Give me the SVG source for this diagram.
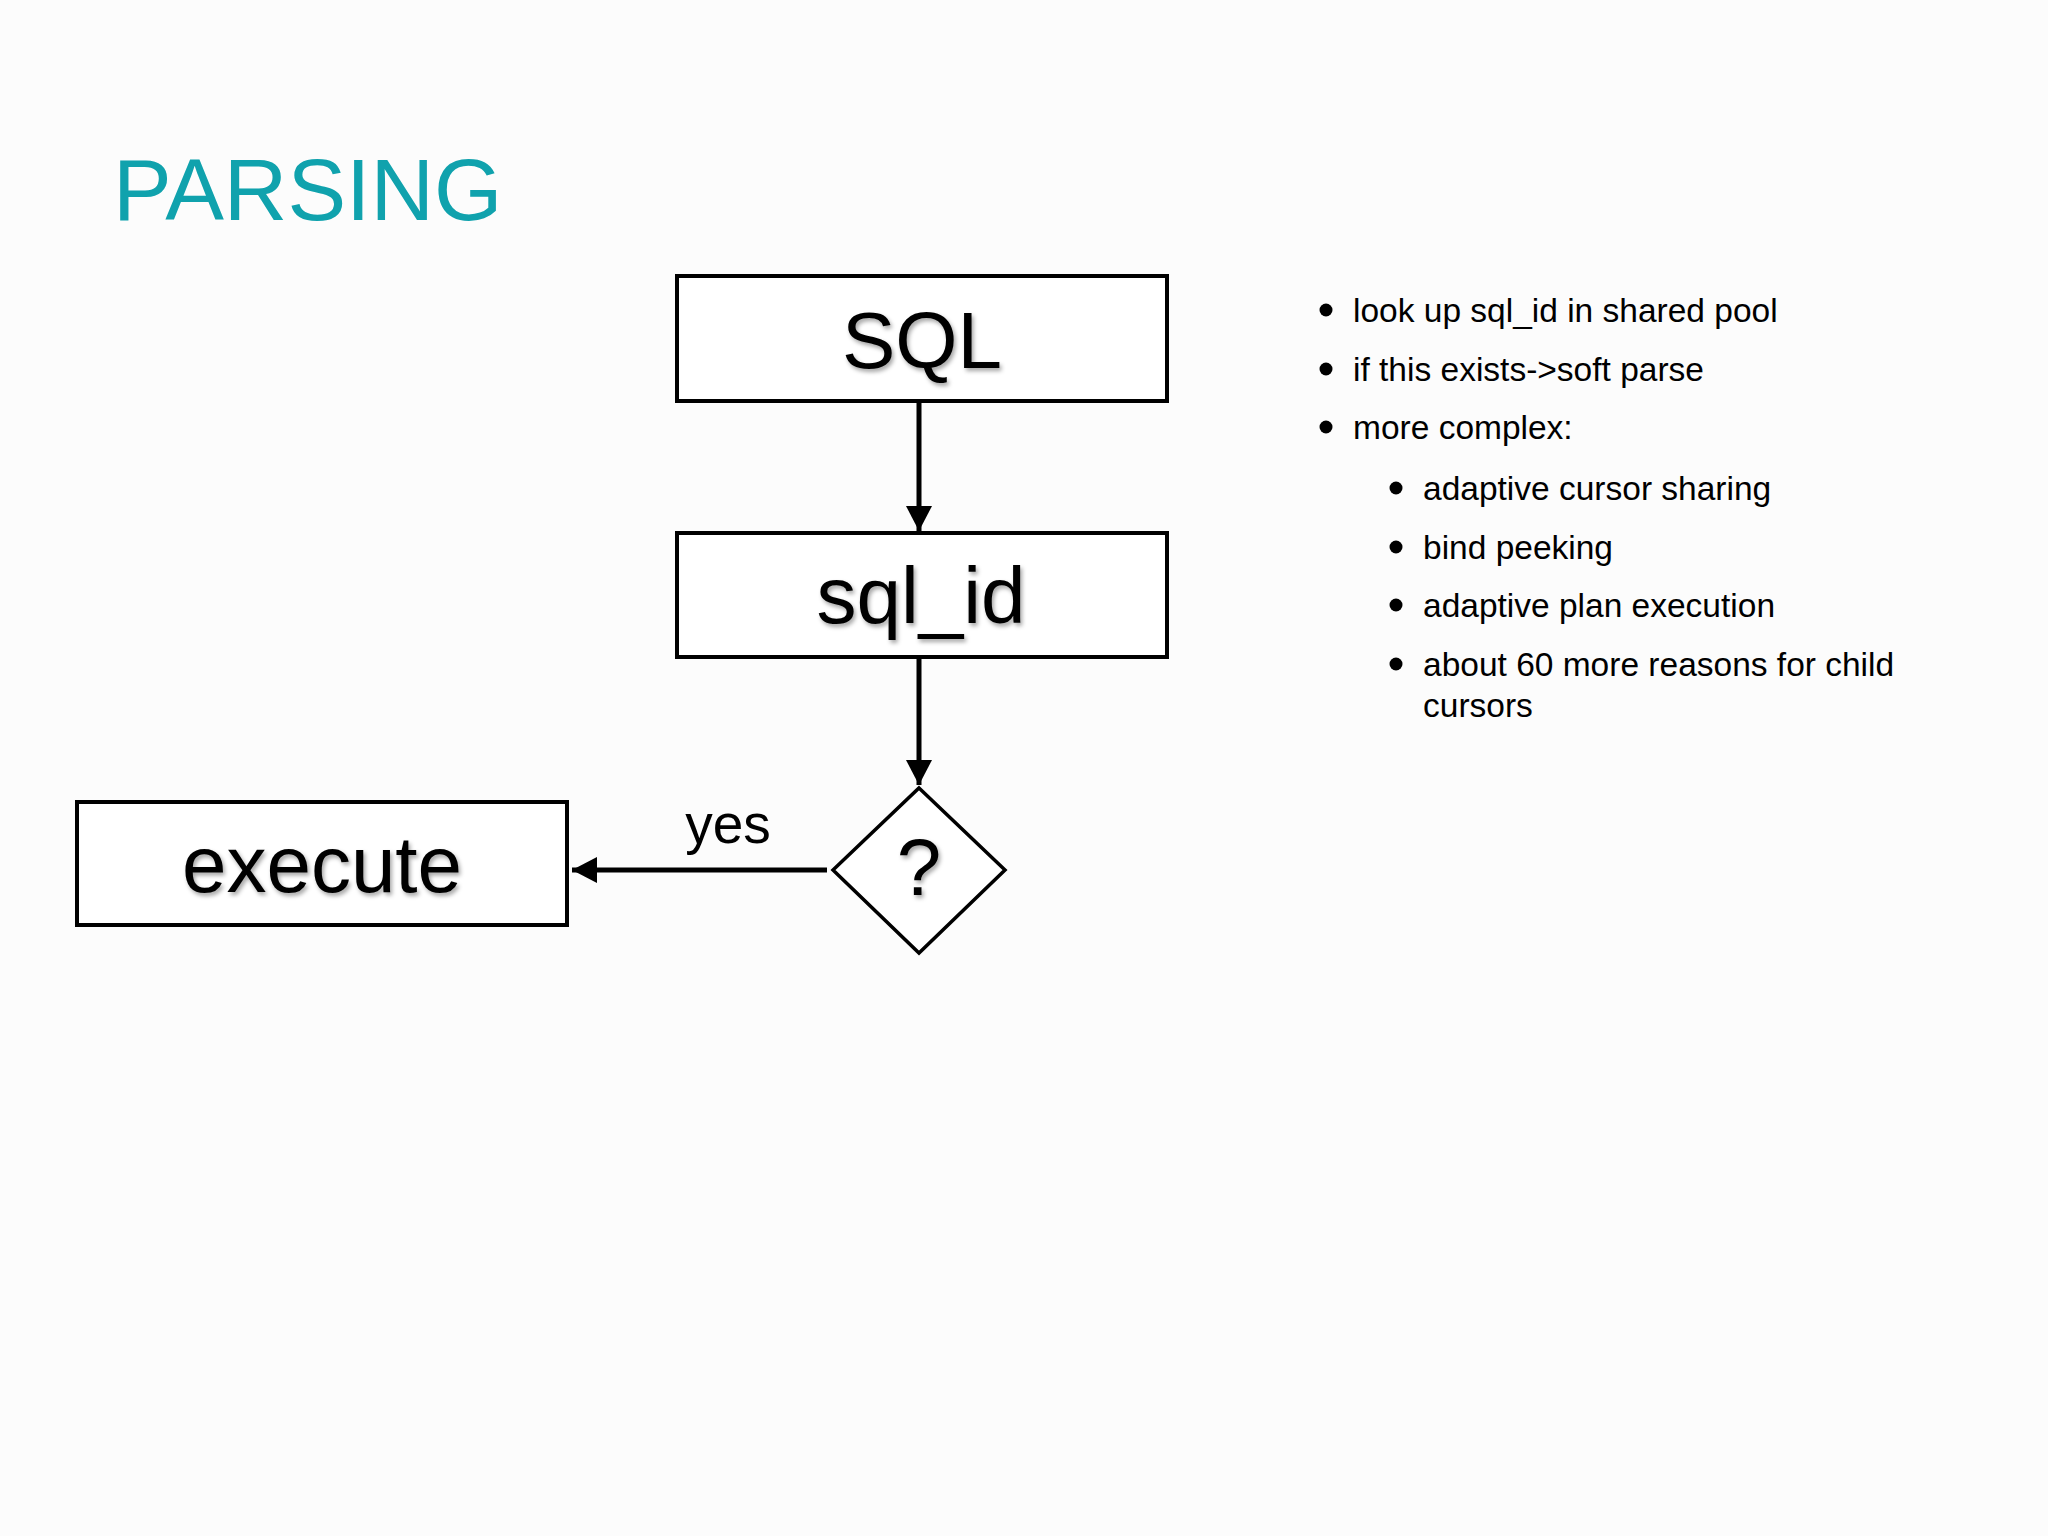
<svg xmlns="http://www.w3.org/2000/svg" width="2048" height="1536" viewBox="0 0 2048 1536">
  <defs>
    <style>
      .box { fill: #ffffff; stroke: #000000; stroke-width: 4; }
      .diamond { fill: #ffffff; stroke: #000000; stroke-width: 3.5; }
      .conn { stroke: #000000; stroke-width: 5; fill: none; }
      .big { font-family: "Liberation Sans", Arial, sans-serif; font-size: 80px; fill: #000000; text-anchor: middle; filter: url(#shadow); }
      .bullet { font-family: "Liberation Sans", Arial, sans-serif; font-size: 33.5px; fill: #000000; }
      .dot { fill: #000000; }
    </style>
    <filter id="shadow" x="-10%" y="-20%" width="120%" height="150%">
      <feDropShadow dx="2" dy="3" stdDeviation="2.2" flood-color="#000000" flood-opacity="0.35"/>
    </filter>
    <marker id="arrow" markerUnits="userSpaceOnUse" markerWidth="28" markerHeight="28" refX="25" refY="14" orient="auto">
      <path d="M0,1 L25,14 L0,27 z" fill="#000000"/>
    </marker>
  </defs>

  <rect x="0" y="0" width="2048" height="1536" fill="#fcfcfc"/>

  <text id="title" x="113" y="220" font-family="'Liberation Sans', Arial, sans-serif" font-size="88" fill="#10a2ad">PARSING</text>

  <g id="connectors">
    <line class="conn" x1="919" y1="403" x2="919" y2="531" marker-end="url(#arrow)"/>
    <line class="conn" x1="919" y1="659" x2="919" y2="785" marker-end="url(#arrow)"/>
    <line class="conn" x1="827" y1="870" x2="572" y2="870" marker-end="url(#arrow)"/>
    <text x="728" y="843" font-family="'Liberation Sans', Arial, sans-serif" font-size="55" fill="#000000" text-anchor="middle">yes</text>
  </g>

  <g id="node-sql">
    <rect class="box" x="677" y="276" width="490" height="125"/>
    <text class="big" x="922" y="368">SQL</text>
  </g>

  <g id="node-sqlid">
    <rect class="box" x="677" y="533" width="490" height="124"/>
    <text class="big" x="921" y="623">sql_id</text>
  </g>

  <g id="node-decision">
    <polygon class="diamond" points="919,788 1005,870 919,953 833,870"/>
    <text class="big" x="919" y="895">?</text>
  </g>

  <g id="node-execute">
    <rect class="box" x="77" y="802" width="490" height="123"/>
    <text class="big" x="322" y="892">execute</text>
  </g>

  <g id="notes">
    <circle class="dot" cx="1326" cy="310" r="6.5"/>
    <text class="bullet" x="1353" y="322">look up sql_id in shared pool</text>
    <circle class="dot" cx="1326" cy="369" r="6.5"/>
    <text class="bullet" x="1353" y="381">if this exists-&gt;soft parse</text>
    <circle class="dot" cx="1326" cy="427" r="6.5"/>
    <text class="bullet" x="1353" y="439">more complex:</text>

    <circle class="dot" cx="1396" cy="488" r="6.5"/>
    <text class="bullet" x="1423" y="500">adaptive cursor sharing</text>
    <circle class="dot" cx="1396" cy="547" r="6.5"/>
    <text class="bullet" x="1423" y="559">bind peeking</text>
    <circle class="dot" cx="1396" cy="605" r="6.5"/>
    <text class="bullet" x="1423" y="617">adaptive plan execution</text>
    <circle class="dot" cx="1396" cy="664" r="6.5"/>
    <text class="bullet" x="1423" y="676">about 60 more reasons for child</text>
    <text class="bullet" x="1423" y="717">cursors</text>
  </g>
</svg>
